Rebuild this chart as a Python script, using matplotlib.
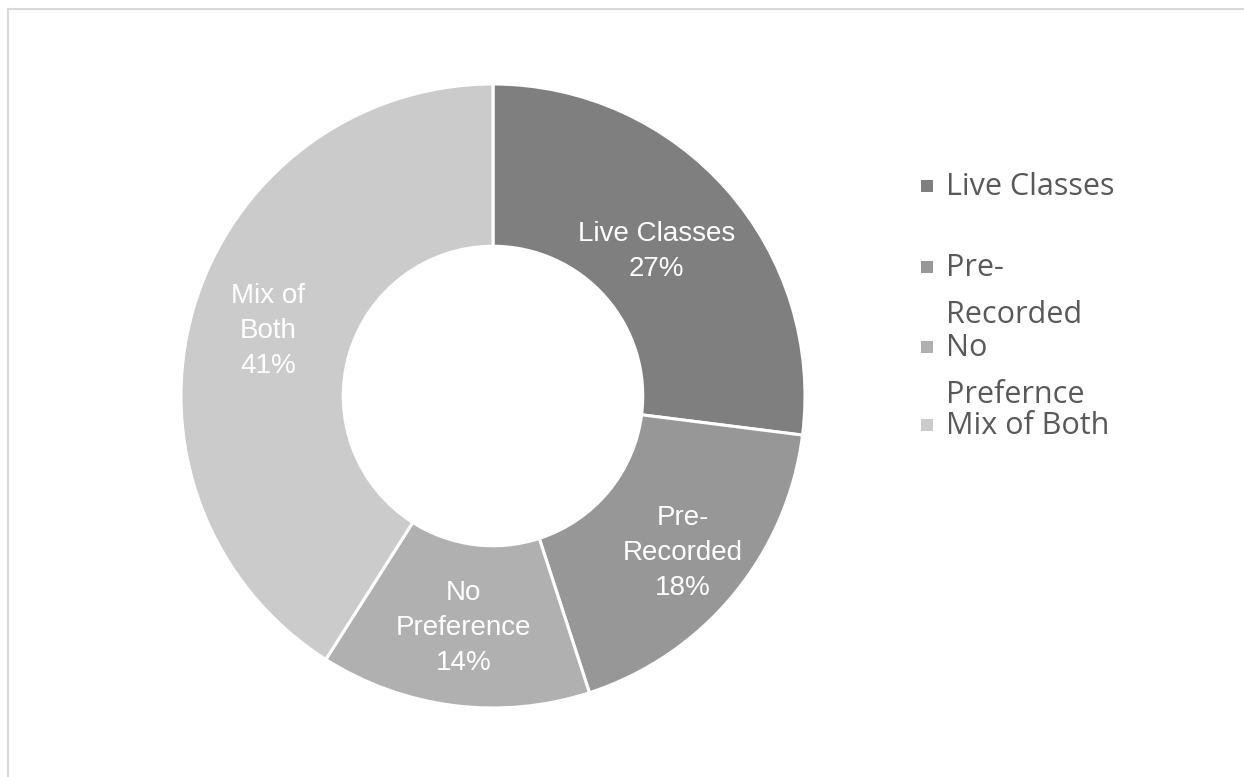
import matplotlib

matplotlib.use("Agg")
import matplotlib.pyplot as plt
from matplotlib.lines import Line2D
from matplotlib.patches import Rectangle
import numpy as np

W, H = 1244, 777

categories = ["Live Classes", "Pre-Recorded", "No Preference", "Mix of Both"]
shares = [27, 18, 14, 41]
slice_labels = ["Live Classes", "Pre-\nRecorded", "No\nPreference", "Mix of\nBoth"]
legend_lines = [["Live Classes"], ["Pre-", "Recorded"], ["No", "Prefernce"], ["Mix of Both"]]
colors = ["#7f7f7f", "#979797", "#b0b0b0", "#cbcbcb"]

fig = plt.figure(figsize=(W / 100, H / 100), dpi=100)
fig.patch.set_facecolor("white")


def px(x, y):
    """pixel coords (origin top-left) -> figure fraction"""
    return x / W, 1 - y / H


# donut: centre (493, 396), outer radius 312 px
cx, cy, r = 493, 396, 312
ax = fig.add_axes([(cx - r) / W, (H - cy - r) / H, 2 * r / W, 2 * r / H])
wedges, _ = ax.pie(
    shares,
    colors=colors,
    startangle=90,
    counterclock=False,
    radius=1.0,
    wedgeprops=dict(width=0.52, edgecolor="white", linewidth=2.2),
)
ax.set_xlim(-1, 1)
ax.set_ylim(-1, 1)
ax.set_aspect("equal")
ax.axis("off")

# labels inside the ring
label_dist = [0.70, 0.79, 0.75, 0.75]
for w, lab, val, d in zip(wedges, slice_labels, shares, label_dist):
    mid = np.deg2rad((w.theta1 + w.theta2) / 2)
    ax.text(
        d * np.cos(mid), d * np.sin(mid), f"{lab}\n{val}%",
        ha="center", va="center", color="white", fontsize=20,
        family="Liberation Sans", linespacing=1.45,
    )

# legend on the right
marker_y = [186, 267, 347, 425]
for w, lines, my in zip(wedges, legend_lines, marker_y):
    x0, y0 = px(921, my + 6)
    fig.patches.append(Rectangle((x0, y0), 12 / W, 12 / H, transform=fig.transFigure,
                                 facecolor=w.get_facecolor(), edgecolor="none"))
    for i, line in enumerate(lines):
        fx, fy = px(946, my + 9 + i * 47)
        fig.text(fx, fy, line, ha="left", va="baseline", fontsize=22,
                 family="Open Sans", color="#595959")

# thin border on top and left
fig.add_artist(Line2D([8 / W, 1], [1 - 9 / H, 1 - 9 / H], transform=fig.transFigure,
                      color="#d9d9d9", linewidth=1.5))
fig.add_artist(Line2D([8 / W, 8 / W], [0, 1 - 9 / H], transform=fig.transFigure,
                      color="#d9d9d9", linewidth=1.5))

fig.savefig("out.png", dpi=100)
